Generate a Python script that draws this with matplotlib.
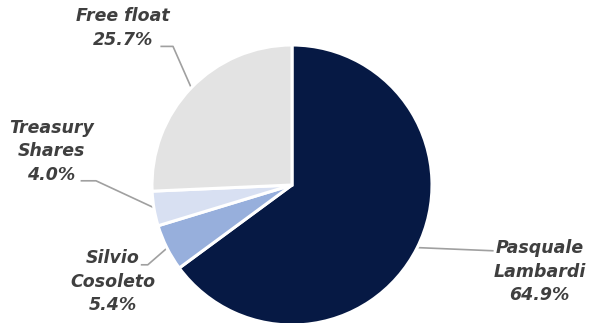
import numpy as np
import matplotlib
matplotlib.use("Agg")
import matplotlib.pyplot as plt

# shareholders, clockwise from 12 o'clock
names = ["Pasquale\nLambardi", "Silvio\nCosoleto", "Treasury\nShares", "Free float"]
shares = [64.9, 5.4, 4.0, 25.7]
colors = ["#061944", "#97afdc", "#d8e0f2", "#e3e3e3"]

# label box centre / leader start / leader elbow (data units, radius = 1)
label_pos = [(1.77, -0.62), (-1.28, -0.69), (-1.72, 0.24), (-1.21, 1.12)]
line_start = [(1.44, -0.47), (-1.08, -0.57), (-1.51, 0.03), (-0.94, 0.99)]
line_elbow = [(1.44, -0.47), (-1.03, -0.57), (-1.40, 0.03), (-0.85, 0.99)]

plt.rcParams['font.family'] = ['DejaVu Sans']

fig = plt.figure(figsize=(5.9, 3.23), dpi=100)
ax = fig.add_axes([0, 0, 1, 1])

wedges, _ = ax.pie(shares, colors=colors, startangle=90, counterclock=False,
                   radius=1.0, wedgeprops=dict(edgecolor="white", linewidth=2.2))

for w, name, val, tp, ls, le in zip(wedges, names, shares, label_pos, line_start, line_elbow):
    mid = np.deg2rad((w.theta1 + w.theta2) / 2)
    end = (0.99 * np.cos(mid), 0.99 * np.sin(mid))
    ax.plot([ls[0], le[0], end[0]], [ls[1], le[1], end[1]], color="#a0a0a0",
            lw=1.2, zorder=0, solid_capstyle="butt")
    ax.text(tp[0], tp[1], f"{name}\n{val:.1f}%", ha="center", va="center",
            fontsize=12.5, fontweight="bold", fontstyle="italic",
            color="#3f3f3f", linespacing=1.4)

ax.set_aspect("auto")
ax.set_xlim(-292 / 140, 298 / 140)
ax.set_ylim(-138 / 140, 185 / 140)
ax.axis("off")

fig.savefig("out.png", dpi=100)
